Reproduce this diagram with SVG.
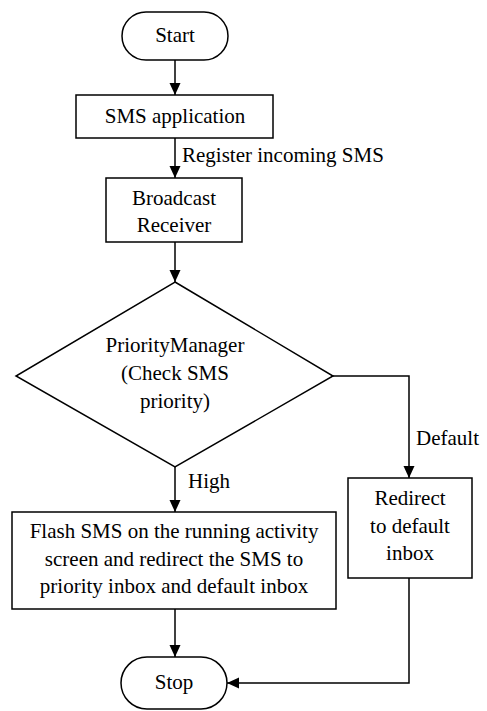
<svg xmlns="http://www.w3.org/2000/svg" width="487" height="711" viewBox="0 0 487 711" font-family="Liberation Serif, Times New Roman, Times, serif" font-size="21">
<style>
.n{fill:#fff;stroke:#000;stroke-width:1.5}
.c{fill:none;stroke:#000;stroke-width:1.5}
.m{text-anchor:middle}
</style>
<defs>
<marker id="ah" markerUnits="userSpaceOnUse" markerWidth="12" markerHeight="12" refX="12" refY="5.5" orient="auto">
<path d="M0,0 L12,5.5 L0,11 z" fill="#000"/>
</marker>
</defs>
<g id="connectors">
<path class="c" d="M175,60 V95" marker-end="url(#ah)"/>
<path class="c" d="M175,138 V178" marker-end="url(#ah)"/>
<path class="c" d="M175,242 V282" marker-end="url(#ah)"/>
<path class="c" d="M175,467 V512" marker-end="url(#ah)"/>
<path class="c" d="M333,376 H409 V478" marker-end="url(#ah)"/>
<path class="c" d="M175,609 V657" marker-end="url(#ah)"/>
<path class="c" d="M409,578 V683 H227" marker-end="url(#ah)"/>
<text x="182" y="162">Register incoming SMS</text>
<text x="188" y="488">High</text>
<text x="416" y="445">Default</text>
</g>
<g id="start">
<rect class="n" x="122" y="12" width="106" height="48" rx="24"/>
<text class="m" x="175" y="42">Start</text>
</g>
<g id="sms-app">
<rect class="n" x="76" y="95" width="197" height="43"/>
<text class="m" x="175" y="123">SMS application</text>
</g>
<g id="broadcast">
<rect class="n" x="106" y="178" width="136" height="64"/>
<text class="m" x="174" y="205">Broadcast</text>
<text class="m" x="174" y="232">Receiver</text>
</g>
<g id="priority">
<polygon class="n" points="175,282 333,376 175,467 16,376"/>
<text class="m" x="175" y="352">PriorityManager</text>
<text class="m" x="175" y="380">(Check SMS</text>
<text class="m" x="175" y="408">priority)</text>
</g>
<g id="flash">
<rect class="n" x="12" y="512" width="324" height="97"/>
<text class="m" x="174" y="538">Flash SMS on the running activity</text>
<text class="m" x="174" y="566">screen and redirect the SMS to</text>
<text class="m" x="174" y="593">priority inbox and default inbox</text>
</g>
<g id="redirect">
<rect class="n" x="348" y="478" width="124" height="100"/>
<text class="m" x="410" y="505">Redirect</text>
<text class="m" x="410" y="533">to default</text>
<text class="m" x="410" y="560">inbox</text>
</g>
<g id="stop">
<rect class="n" x="121" y="657" width="106" height="52" rx="26"/>
<text class="m" x="174" y="689">Stop</text>
</g>
</svg>
